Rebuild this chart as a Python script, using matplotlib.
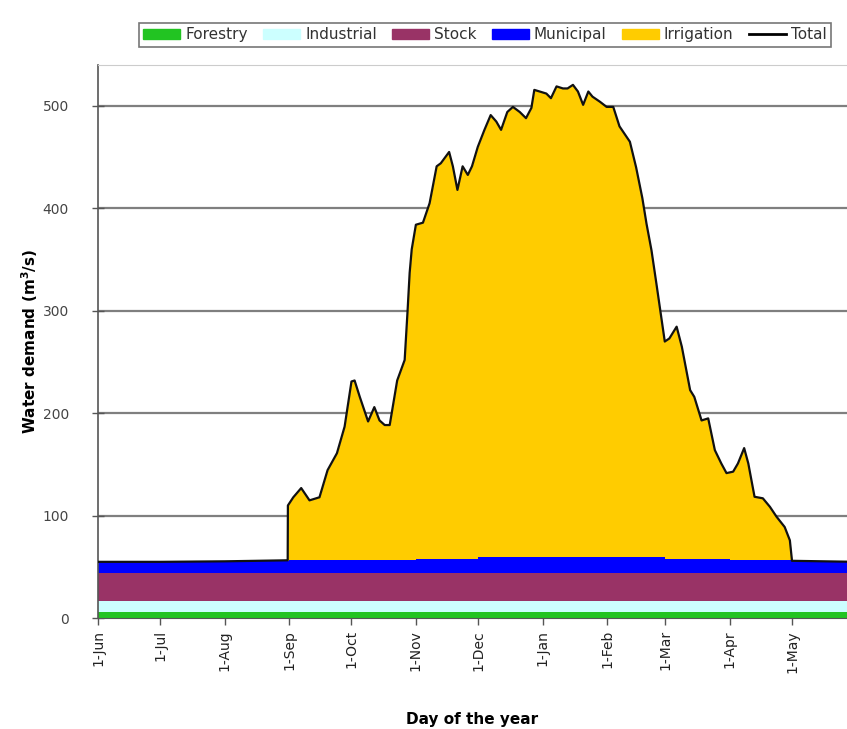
import numpy as np
import matplotlib
matplotlib.use("Agg")
import matplotlib.pyplot as plt
from matplotlib.patches import Patch
from matplotlib.lines import Line2D

# ---- data (day 0 = 1 June) ----
month_days = [0, 30, 61, 92, 122, 153, 183, 214, 245, 273, 304, 334, 365]
month_labels = ["1-Jun", "1-Jul", "1-Aug", "1-Sep", "1-Oct", "1-Nov", "1-Dec",
                "1-Jan", "1-Feb", "1-Mar", "1-Apr", "1-May"]

forestry = [6, 6, 6, 6, 6, 6, 6, 6, 6, 6, 6, 6, 6]
industrial = [10.5] * 13
stock = [27.5] * 13
municipal = [11, 11, 11.5, 12.5, 13, 14, 15.5, 16, 15.5, 14, 13, 11.5, 11]

# Total demand (baseline + irrigation)
total_days = [0, 30, 61, 91.3, 91.4, 94, 97.8, 101.8, 106.6, 110.5, 115, 118.7, 122,
              123.5, 126, 130, 133, 135.5, 138, 140.4, 144, 147.6, 149, 150, 151,
              153, 156.4, 159.6, 163, 165, 169, 170.8, 173, 175.5, 178, 180, 182.8,
              186, 189, 191.7, 194, 197, 199.7, 203, 206, 208.6, 210, 212.6, 215.8,
              218, 220.7, 223.8, 226, 228.6, 231, 233.5, 236, 238, 241.6, 244.8, 248,
              251, 256, 259, 262, 264, 266.4, 268.8, 272.8, 275, 278.5, 281, 285,
              287, 290.5, 293.7, 296.9, 300, 302.5, 305.7, 308, 311, 313, 316, 320,
              323.4, 326.6, 330.5, 333, 333.9, 334, 365]
total = [55, 55, 55.5, 56.5, 110, 118, 127, 115, 118, 144.5, 161, 187, 231,
         232, 216, 192, 206, 193, 188.5, 188.5, 232, 252, 300, 337, 360,
         384, 386, 405, 441, 444, 455, 441, 418, 441, 432.6, 441, 460,
         476.6, 491, 484.7, 476.6, 494, 499, 494, 488, 498, 515.6, 514, 512,
         507.5, 519, 517, 517, 520.5, 514, 501, 514, 509, 504, 499, 499,
         480, 465, 440, 410, 385, 359, 326, 270, 273, 284.5, 265, 222.6,
         216, 193, 195, 164, 151, 141.6, 143, 151, 166, 151, 118.5, 117,
         108.7, 99, 89, 76, 58.6, 56, 55]

yticks = [0, 100, 200, 300, 400, 500]

# ---- figure ----
fig = plt.figure(figsize=(8.47, 7.29), dpi=100)
ax = fig.add_axes([0.1157, 0.152, 0.8843, 0.759])

c_for = "#22c422"
c_ind = "#ccffff"
c_sto = "#993366"
c_mun = "#0000ff"
c_irr = "#ffcc00"

for y in yticks[1:]:
    ax.axhline(y, color="#7f7f7f", lw=1.6, zorder=0)

# irrigation area (drawn from 0, covered by base layers)
ax.fill_between(total_days, 0, total, color=c_irr, lw=0, zorder=1)

# base stack
ax.stackplot(month_days, forestry, industrial, stock, municipal,
             colors=[c_for, c_ind, c_sto, c_mun], step="post", lw=0, zorder=2)

ax.plot(total_days, total, color="#111111", lw=1.6, zorder=3)

ax.set_xlim(0, 360.5)
ax.set_ylim(0, 540)
ax.set_xticks(month_days[:-1])
ax.set_xticklabels(month_labels, rotation=90, fontsize=10,
                   family=["Liberation Sans Narrow", "DejaVu Sans"], color="#222222")
ax.set_yticks(yticks)
ax.set_yticklabels([str(v) for v in yticks], fontsize=10, color="#444444")
ax.tick_params(axis="y", direction="inout", length=8, width=1, color="#555555", pad=17)
ax.tick_params(axis="x", direction="out", length=5, width=1, color="#555555")

ax.spines["right"].set_visible(False)
ax.spines["top"].set_color("#cccccc")
ax.spines["left"].set_color("#555555")
ax.spines["bottom"].set_color("#555555")
ax.spines["left"].set_linewidth(1.2)

ax.set_ylabel("Water demand (m$^{\\mathbf{3}}$/s)", fontsize=11, fontweight="bold",
              labelpad=2)
ax.set_xlabel("Day of the year", fontsize=11, fontweight="bold", labelpad=28)

handles = [Patch(color=c_for), Patch(color=c_ind), Patch(color=c_sto),
           Patch(color=c_mun), Patch(color=c_irr),
           Line2D([], [], color="black", lw=2)]
labels = ["Forestry", "Industrial", "Stock", "Municipal", "Irrigation", "Total"]
leg = fig.legend(handles, labels, ncol=6, loc="center", bbox_to_anchor=(0.5726, 0.952),
                 fontsize=11, frameon=True, fancybox=False, edgecolor="#555555",
                 handlelength=2.4, handleheight=0.6, handletextpad=0.35,
                 columnspacing=1.0, borderpad=0.3)
leg.get_frame().set_linewidth(1.2)
for t in leg.get_texts():
    t.set_color("#333333")

fig.savefig("out.png", dpi=100)
